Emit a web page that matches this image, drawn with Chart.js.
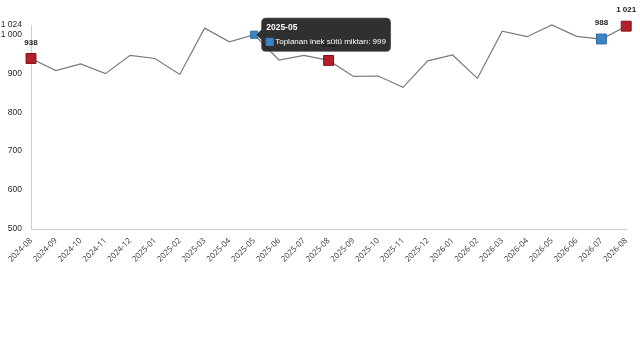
<!DOCTYPE html>
<html>
<head>
<meta charset="utf-8">
<script src="https://cdn.jsdelivr.net/npm/chart.js@4"></script>
<style>
  html, body { margin: 0; padding: 0; background: #fff; }
  #wrap { width: 640px; height: 360px; }
</style>
</head>
<body>
<div id="wrap"><canvas id="milkChart" width="640" height="360"></canvas></div>
<script>
// ---- data ----
const months = ['2024-08','2024-09','2024-10','2024-11','2024-12','2025-01','2025-02','2025-03',
  '2025-04','2025-05','2025-06','2025-07','2025-08','2025-09','2025-10','2025-11','2025-12',
  '2026-01','2026-02','2026-03','2026-04','2026-05','2026-06','2026-07','2026-08'];
const milkValues = [938, 907, 924, 899, 946, 938, 897, 1016, 981, 999, 934, 946, 933,
  892, 893, 864, 932, 947, 887, 1008, 994, 1024, 995, 988, 1021];
const yTicks = [500, 600, 700, 800, 900, 1000, 1024];
const redIdx = [0, 12, 24];   // August markers
const blueIdx = [23];         // previous month
const labelIdx = [0, 12, 23, 24];
const hoverIdx = 9;           // tooltip shown for 2025-05
const seriesName = 'Toplanan inek sütü miktarı';

const RED = '#b3202b', RED_EDGE = '#7c1219';
const BLUE = '#3d84c4', BLUE_EDGE = '#2b68a3';

function fmt(v) {
  return String(v).replace(/\B(?=(\d{3})+(?!\d))/g, ' ');
}

const pointBg = months.map((m, i) => redIdx.includes(i) ? RED : BLUE);
const pointEdge = months.map((m, i) => redIdx.includes(i) ? RED_EDGE : BLUE_EDGE);
const pointR = months.map((m, i) => (redIdx.includes(i) || blueIdx.includes(i)) ? 7 : 0);

// value labels above selected points
const valueLabels = {
  id: 'valueLabels',
  afterDatasetsDraw(chart) {
    const ctx = chart.ctx;
    const meta = chart.getDatasetMeta(0);
    ctx.save();
    ctx.font = 'bold 8px "Liberation Sans", Arial, sans-serif';
    ctx.fillStyle = '#222';
    ctx.textAlign = 'center';
    ctx.textBaseline = 'middle';
    labelIdx.forEach(i => {
      const p = meta.data[i];
      ctx.fillText(fmt(milkValues[i]), p.x, p.y - 16);
    });
    ctx.restore();
  }
};

Chart.defaults.font.family = '"Liberation Sans", Arial, sans-serif';

const chart = new Chart(document.getElementById('milkChart').getContext('2d'), {
  type: 'line',
  data: {
    labels: months,
    datasets: [{
      label: seriesName,
      data: milkValues,
      borderColor: '#777b7b',
      borderWidth: 1.2,
      tension: 0,
      pointStyle: 'rect',
      pointRadius: pointR,
      pointBackgroundColor: pointBg,
      pointBorderColor: pointEdge,
      pointBorderWidth: 1,
      pointHoverRadius: 5,
      pointHoverBackgroundColor: BLUE,
      pointHoverBorderColor: BLUE_EDGE,
      pointHoverBorderWidth: 1,
      clip: false
    }]
  },
  options: {
    responsive: false,
    animation: false,
    events: [],
    layout: { padding: { left: 0, right: 9, top: 25, bottom: 91 } },
    scales: {
      x: {
        grid: { display: false, drawTicks: false },
        border: { display: true, color: '#cccccc' },
        afterFit(scale) { scale.height = 40; },
        ticks: {
          autoSkip: false, minRotation: 45, maxRotation: 45, padding: 7,
          color: '#3a3a3a', font: { size: 8, family: '"Open Sans", sans-serif' }
        }
      },
      y: {
        min: 500, max: 1024,
        grid: { display: false, drawTicks: false },
        border: { display: true, color: '#cccccc' },
        afterFit(scale) { scale.width = 31; },
        afterBuildTicks(scale) { scale.ticks = yTicks.map(v => ({ value: v })); },
        ticks: { padding: 9, color: '#2a2a2a', font: { size: 8.5 }, callback: v => fmt(v) }
      }
    },
    plugins: {
      legend: { display: false },
      tooltip: {
        backgroundColor: 'rgba(25,25,25,0.9)',
        borderColor: 'rgba(200,200,200,0.35)',
        borderWidth: 1,
        cornerRadius: 5,
        padding: 5,
        titleFont: { size: 8.5, weight: 'bold' },
        bodyFont: { size: 8 },
        titleMarginBottom: 4,
        boxWidth: 7, boxHeight: 7,
        multiKeyBackground: BLUE,
        callbacks: {
          label: c => seriesName + ': ' + fmt(c.parsed.y),
          labelColor: () => ({ backgroundColor: BLUE, borderColor: BLUE })
        }
      }
    }
  },
  plugins: [valueLabels]
});

const hp = chart.getDatasetMeta(0).data[hoverIdx];
chart.setActiveElements([{ datasetIndex: 0, index: hoverIdx }]);
chart.tooltip.setActiveElements([{ datasetIndex: 0, index: hoverIdx }], { x: hp.x, y: hp.y });
chart.update();
</script>
</body>
</html>
